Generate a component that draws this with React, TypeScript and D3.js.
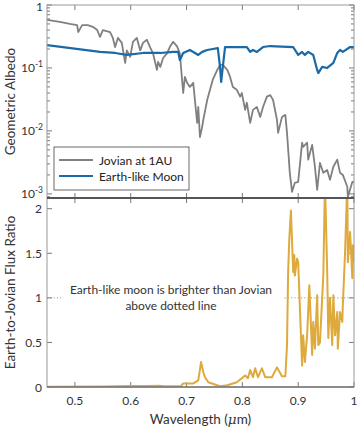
import React, { useEffect, useRef } from "react";
import * as d3 from "d3";

const W = 357;
const H = 429;
const LEFT = 47;
const RIGHT = 354;
const TOP1 = 5;
const BOT1 = 198;
const BOT2 = 387;
const FONT = "Lato, 'Open Sans', sans-serif";

// Jovian at 1AU geometric albedo
const jovianWl = [
  0.45, 0.473, 0.491, 0.504, 0.506, 0.513, 0.523, 0.532, 0.54, 0.545, 0.55, 0.563, 0.568,
  0.572, 0.577, 0.584, 0.59, 0.593, 0.599, 0.604, 0.611, 0.617, 0.622, 0.629, 0.635, 0.64,
  0.647, 0.649, 0.653, 0.658, 0.665, 0.67, 0.676, 0.683, 0.688, 0.694, 0.697, 0.701, 0.706,
  0.712, 0.719, 0.721, 0.724, 0.728, 0.73, 0.737, 0.742, 0.747, 0.755, 0.76, 0.765, 0.773,
  0.778, 0.783, 0.79, 0.796, 0.799, 0.805, 0.808, 0.814, 0.819, 0.826, 0.832, 0.837, 0.844,
  0.85, 0.855, 0.862, 0.864, 0.871, 0.877, 0.88, 0.885, 0.889, 0.894, 0.9, 0.907, 0.909,
  0.916, 0.918, 0.925, 0.93, 0.934, 0.939, 0.945, 0.952, 0.957, 0.963, 0.97, 0.975, 0.98,
  0.988, 0.989, 0.997, 1.0,
];
const jovianAlb = [
  0.58, 0.54, 0.5, 0.48, 0.37, 0.48, 0.48, 0.45, 0.4, 0.31, 0.4, 0.37, 0.3,
  0.215, 0.3, 0.25, 0.12, 0.19, 0.15, 0.26, 0.3, 0.19, 0.25, 0.28, 0.21, 0.17,
  0.093, 0.125, 0.104, 0.144, 0.17, 0.215, 0.26, 0.22, 0.17, 0.04, 0.072, 0.058, 0.05,
  0.058, 0.0134, 0.024, 0.008, 0.0116, 0.015, 0.031, 0.045, 0.065, 0.093, 0.112, 0.112, 0.093,
  0.072, 0.05, 0.045, 0.035, 0.04, 0.0216, 0.028, 0.0134, 0.0216, 0.024, 0.0167, 0.024, 0.035,
  0.037, 0.031, 0.015, 0.0093, 0.0167, 0.018, 0.0093, 0.00216, 0.00108, 0.0015, 0.00155, 0.0065, 0.0056,
  0.0065, 0.0035, 0.006, 0.0027, 0.00116, 0.0031, 0.00216, 0.0024, 0.00167, 0.0027, 0.0035, 0.00216, 0.002,
  0.0013, 0.0009, 0.00155, 0.00155,
];

// Earth-like moon geometric albedo
const moonWl = [
  0.45, 0.545, 0.572, 0.593, 0.622, 0.653, 0.676, 0.685, 0.688, 0.694, 0.706, 0.715, 0.721,
  0.728, 0.737, 0.747, 0.756, 0.76, 0.762, 0.765, 0.769, 0.79, 0.808, 0.814, 0.819, 0.826,
  0.837, 0.85, 0.891, 0.9, 0.907, 0.912, 0.918, 0.927, 0.934, 0.936, 0.943, 0.952, 0.963,
  0.97, 0.975, 0.98, 0.993, 1.0,
];
const moonAlb = [
  0.23, 0.18, 0.173, 0.161, 0.173, 0.173, 0.18, 0.18, 0.134, 0.173, 0.193, 0.173, 0.161,
  0.18, 0.193, 0.2, 0.207, 0.104, 0.06, 0.104, 0.215, 0.215, 0.215, 0.18, 0.193, 0.18,
  0.215, 0.223, 0.215, 0.161, 0.18, 0.161, 0.18, 0.161, 0.093, 0.083, 0.104, 0.1, 0.12,
  0.173, 0.193, 0.18, 0.215, 0.215,
];

// Earth-to-Jovian flux ratio
const ratioWl = [
  0.45, 0.55, 0.6, 0.63, 0.65, 0.66, 0.69, 0.694, 0.712, 0.721, 0.726, 0.73, 0.733, 0.739,
  0.76, 0.773, 0.79, 0.799, 0.805, 0.81, 0.814, 0.819, 0.823, 0.828, 0.835, 0.841, 0.853,
  0.862, 0.871, 0.877, 0.88, 0.882, 0.884, 0.887, 0.891, 0.893, 0.894, 0.898, 0.9, 0.907,
  0.909, 0.912, 0.916, 0.92, 0.925, 0.927, 0.93, 0.934, 0.936, 0.939, 0.945, 0.948, 0.952,
  0.954, 0.957, 0.961, 0.963, 0.966, 0.97, 0.971, 0.975, 0.979, 0.98, 0.984, 0.988, 0.989,
  0.993, 0.997, 0.998, 1.0,
];
const ratioVal = [
  0.003, 0.005, 0.01, 0.01, 0.015, 0.008, 0.01, 0.04, 0.04, 0.075, 0.28, 0.165, 0.11, 0.053,
  0.008, 0.02, 0.053, 0.098, 0.13, 0.098, 0.19, 0.11, 0.21, 0.11, 0.21, 0.11, 0.11,
  0.22, 0.12, 0.12, 0.47, 1.29, 1.65, 1.98, 1.29, 1.48, 1.25, 1.44, 1.4, 0.24,
  0.58, 0.28, 0.58, 1.14, 0.36, 0.73, 0.43, 1.03, 0.47, 0.5, 1.25, 2.3, 1.29,
  0.55, 1.0, 0.47, 1.03, 0.58, 0.84, 0.43, 0.84, 0.73, 0.92, 1.51, 2.3, 1.4,
  1.74, 1.22, 1.59, 1.4,
];

const xTicks = [0.5, 0.6, 0.7, 0.8, 0.9, 1];
const albedoTicks = [1, 0.1, 0.01, 0.001];
const albedoLabels = [["1", ""], ["10", "-1"], ["10", "-2"], ["10", "-3"]];
const ratioTicks = [0, 0.5, 1, 1.5, 2];

export default function App() {
  const ref = useRef<SVGSVGElement>(null);

  useEffect(() => {
    const svg = d3.select(ref.current);
    svg.selectAll("*").remove();

    const x = d3.scaleLinear().domain([0.45, 1]).range([LEFT, RIGHT]);
    const yTop = d3.scaleLog().domain([0.00086, 1]).range([BOT1, TOP1]);
    const yBot = d3.scaleLinear().domain([0, 2.12]).range([BOT2, BOT1]);

    svg.append("rect").attr("width", W).attr("height", H).attr("fill", "#fff");

    const defs = svg.append("defs");
    defs.append("clipPath").attr("id", "clipTop")
      .append("rect").attr("x", LEFT).attr("y", TOP1).attr("width", RIGHT - LEFT).attr("height", BOT1 - TOP1);
    defs.append("clipPath").attr("id", "clipBot")
      .append("rect").attr("x", LEFT).attr("y", BOT1).attr("width", RIGHT - LEFT).attr("height", BOT2 - BOT1);

    // ticks (inside)
    const tickG = svg.append("g").attr("stroke", "#555").attr("stroke-width", 0.8);
    xTicks.forEach((t) => {
      const px = x(t);
      [[TOP1, 1], [BOT1, -1], [BOT1, 1], [BOT2, -1]].forEach(([y0, dir]) => {
        tickG.append("line").attr("x1", px).attr("x2", px).attr("y1", y0).attr("y2", y0 + dir * 5);
      });
    });
    // log ticks on top panel
    for (let e = -4; e <= 0; e++) {
      for (let m = 1; m <= 9; m++) {
        const v = m * Math.pow(10, e);
        if (v < 0.00086 || v > 1) continue;
        const py = yTop(v);
        const len = m === 1 ? 5 : 3;
        tickG.append("line").attr("x1", LEFT).attr("x2", LEFT + len).attr("y1", py).attr("y2", py);
        tickG.append("line").attr("x1", RIGHT).attr("x2", RIGHT - len).attr("y1", py).attr("y2", py);
      }
    }
    ratioTicks.forEach((t) => {
      const py = yBot(t);
      tickG.append("line").attr("x1", LEFT).attr("x2", LEFT + 5).attr("y1", py).attr("y2", py);
      tickG.append("line").attr("x1", RIGHT).attr("x2", RIGHT - 5).attr("y1", py).attr("y2", py);
    });

    // Top panel lines
    const lineTop = d3.line<[number, number]>().x((d) => x(d[0])).y((d) => yTop(d[1]));
    const gTop = svg.append("g").attr("clip-path", "url(#clipTop)");
    gTop.append("path")
      .attr("d", lineTop(jovianWl.map((w, i) => [w, jovianAlb[i]]) as [number, number][]))
      .attr("fill", "none").attr("stroke", "#808080").attr("stroke-width", 1.8)
      .attr("stroke-linejoin", "round");
    gTop.append("path")
      .attr("d", lineTop(moonWl.map((w, i) => [w, moonAlb[i]]) as [number, number][]))
      .attr("fill", "none").attr("stroke", "#1b6aa8").attr("stroke-width", 2.2)
      .attr("stroke-linejoin", "round");

    // Bottom panel: dotted line at 1, annotation
    svg.append("line")
      .attr("x1", LEFT).attr("x2", RIGHT).attr("y1", yBot(1)).attr("y2", yBot(1))
      .attr("stroke", "#888").attr("stroke-width", 1).attr("stroke-dasharray", "1,2.3");
    svg.append("rect")
      .attr("x", 63).attr("y", 282).attr("width", 220).attr("height", 30).attr("fill", "#fff");
    const ann = svg.append("text")
      .attr("font-family", FONT).attr("font-size", 12).attr("fill", "#333")
      .attr("text-anchor", "middle");
    ann.append("tspan").attr("x", 171).attr("y", 294).text("Earth-like moon is brighter than Jovian");
    ann.append("tspan").attr("x", 171).attr("y", 310).text("above dotted line");

    const lineBot = d3.line<[number, number]>().x((d) => x(d[0])).y((d) => yBot(d[1]));
    svg.append("g").attr("clip-path", "url(#clipBot)")
      .append("path")
      .attr("d", lineBot(ratioWl.map((w, i) => [w, ratioVal[i]]) as [number, number][]))
      .attr("fill", "none").attr("stroke", "#deaa3c").attr("stroke-width", 2)
      .attr("stroke-linejoin", "round");

    // frames
    svg.append("rect")
      .attr("x", LEFT).attr("y", TOP1).attr("width", RIGHT - LEFT).attr("height", BOT2 - TOP1)
      .attr("fill", "none").attr("stroke", "#999").attr("stroke-width", 1);
    svg.append("line")
      .attr("x1", LEFT).attr("x2", RIGHT).attr("y1", BOT1).attr("y2", BOT1)
      .attr("stroke", "#555").attr("stroke-width", 2.2);
    svg.append("line")
      .attr("x1", LEFT).attr("x2", RIGHT).attr("y1", BOT2).attr("y2", BOT2)
      .attr("stroke", "#777").attr("stroke-width", 1.6);

    // tick labels
    const labels = svg.append("g").attr("font-family", FONT).attr("font-size", 12).attr("fill", "#333");
    xTicks.forEach((t) => {
      labels.append("text").attr("x", x(t)).attr("y", 405).attr("text-anchor", "middle").text(String(t));
    });
    ratioTicks.forEach((t) => {
      labels.append("text").attr("x", 42).attr("y", yBot(t) + 4.5).attr("text-anchor", "end").text(String(t));
    });
    albedoTicks.forEach((t, i) => {
      const txt = labels.append("text").attr("x", 43)
        .attr("y", Math.max(yTop(t) + 4.5, 11)).attr("text-anchor", "end");
      txt.append("tspan").text(albedoLabels[i][0]);
      if (albedoLabels[i][1]) {
        txt.append("tspan").attr("dy", -5).attr("font-size", 8.5).text(albedoLabels[i][1]);
      }
    });

    // axis titles
    const titles = svg.append("g").attr("font-family", FONT).attr("font-size", 13.5).attr("fill", "#333")
      .attr("text-anchor", "middle");
    titles.append("text").attr("transform", `translate(15, ${(TOP1 + BOT1) / 2}) rotate(-90)`)
      .text("Geometric Albedo");
    titles.append("text").attr("transform", `translate(15, ${(BOT1 + BOT2) / 2}) rotate(-90)`)
      .text("Earth-to-Jovian Flux Ratio");
    const xl = titles.append("text").attr("x", (LEFT + RIGHT) / 2).attr("y", 424);
    xl.append("tspan").text("Wavelength (");
    xl.append("tspan").attr("font-style", "italic").attr("font-family", "'DejaVu Serif', serif").text("\u03bc");
    xl.append("tspan").text("m)");

    // legend
    const leg = svg.append("g");
    leg.append("rect").attr("x", 54).attr("y", 147).attr("width", 135).attr("height", 43)
      .attr("fill", "#fff").attr("stroke", "#444").attr("stroke-width", 0.8);
    const legItems: [string, string][] = [["Jovian at 1AU", "#808080"], ["Earth-like Moon", "#1b6aa8"]];
    legItems.forEach(([name, color], i) => {
      const cy = 160 + i * 16;
      leg.append("line").attr("x1", 59).attr("x2", 93).attr("y1", cy).attr("y2", cy)
        .attr("stroke", color).attr("stroke-width", 2);
      leg.append("text").attr("x", 99).attr("y", cy + 4.5).attr("font-family", FONT)
        .attr("font-size", 12).attr("fill", "#222").text(name);
    });
  }, []);

  return (
    <svg ref={ref} width={W} height={H} style={{ position: "absolute", left: 0, top: 0 }} />
  );
}
